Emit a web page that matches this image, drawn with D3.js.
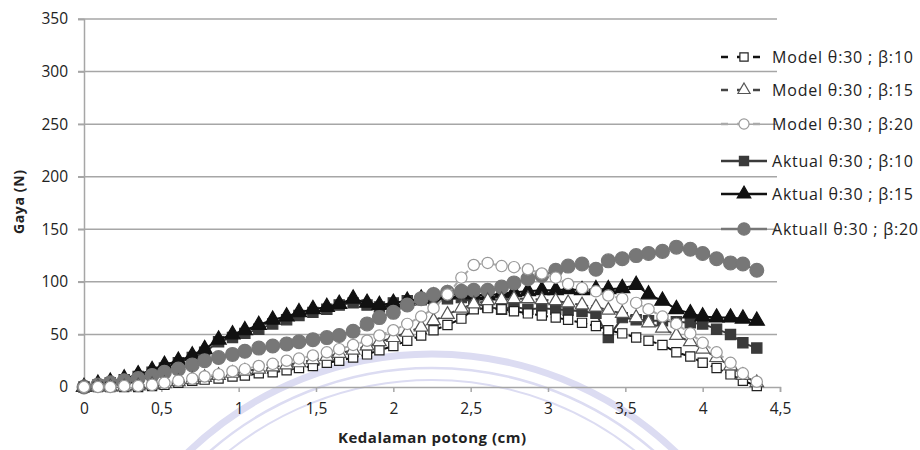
<!DOCTYPE html>
<html>
<head lang="en">
    <meta charset="UTF-8">
    <title></title>
    <script src="https://cdn.jsdelivr.net/npm/d3@7"></script>
    <style>
        body { margin: 0; background: #fff; }
        text { font-family: "Open Sans", "Noto Sans", sans-serif; fill: #222; }
    </style>
</head>
<body>
<div id="chart"></div>
<script>
    // kedalaman potong (cm)
    var depth = [0, 0.09, 0.17, 0.26, 0.35, 0.44, 0.52, 0.61, 0.70, 0.78, 0.87, 0.96, 1.04, 1.13, 1.22, 1.31, 1.39,
        1.48, 1.57, 1.65, 1.74, 1.83, 1.91, 2.00, 2.09, 2.18, 2.26, 2.35, 2.44, 2.52, 2.61, 2.70, 2.78, 2.87,
        2.96, 3.05, 3.13, 3.22, 3.31, 3.39, 3.48, 3.57, 3.65, 3.74, 3.83, 3.92, 4.00, 4.09, 4.18, 4.26, 4.35];

    var model10 = [0, 0, 0, 0, 0, 1, 2, 4, 6, 7, 8, 10, 11, 13, 14, 16, 18, 20, 23, 25, 28, 31, 35, 39, 44, 49, 54,
        59, 65, 74, 75, 74, 72, 70, 68, 66, 64, 61, 58, 54, 51, 47, 44, 40, 33, 29, 23, 18, 12, 6, 1];
    var model15 = [0, 0, 0, 0, 1, 2, 3, 5, 7, 9, 11, 13, 15, 17, 19, 21, 23, 26, 29, 32, 35, 39, 43, 47, 52, 57, 63,
        69, 75, 79, 82, 83, 84, 84, 83, 82, 80, 78, 76, 73, 70, 66, 61, 56, 49, 43, 36, 28, 20, 11, 4];
    var model20 = [0, 0, 0, 1, 1, 2, 4, 6, 8, 10, 12, 15, 17, 20, 22, 25, 27, 30, 33, 36, 40, 44, 49, 54, 60, 67, 75,
        88, 104, 116, 118, 115, 114, 112, 108, 104, 98, 94, 91, 87, 84, 80, 74, 67, 60, 51, 42, 33, 23, 13, 5];
    var aktual10 = [0, 2, 4, 7, 10, 14, 18, 23, 28, 33, 43, 47, 51, 55, 60, 64, 68, 71, 74, 78, 80, 78, 76, 80, 82,
        83, 84, 84, 85, 80, 76, 74, 76, 74, 75, 74, 73, 72, 70, 47, 66, 64, 63, 63, 62, 61, 60, 55, 50, 42, 37];
    var aktual15 = [0, 3, 5, 8, 12, 16, 21, 25, 30, 36, 45, 50, 54, 59, 64, 67, 71, 74, 76, 79, 84, 80, 78, 80, 82,
        84, 86, 88, 89, 88, 87, 89, 90, 91, 92, 92, 93, 92, 93, 93, 94, 97, 88, 82, 74, 70, 67, 66, 66, 65, 63];
    var aktual20 = [0, 2, 4, 6, 8, 11, 14, 17, 21, 25, 28, 31, 34, 37, 39, 41, 43, 45, 47, 49, 53, 60, 66, 71, 78,
        84, 88, 90, 91, 92, 92, 95, 99, 103, 106, 111, 115, 117, 112, 120, 122, 125, 127, 129, 133, 131, 127,
        122, 118, 117, 111];

    var seriesNames = ["Model θ:30 ; β:10", "Model θ:30 ; β:15", "Model θ:30 ; β:20",
        "Aktual θ:30 ; β:10", "Aktual θ:30 ; β:15", "Aktuall θ:30 ; β:20"];
    var seriesValues = [model10, model15, model20, aktual10, aktual15, aktual20];
    var xTicks = [0, 0.5, 1, 1.5, 2, 2.5, 3, 3.5, 4, 4.5];
    var yTicks = [0, 50, 100, 150, 200, 250, 300, 350];

    // tampilan tiap seri: garis, penanda
    var looks = [
        {line: "#111", dash: "5,3", shape: d3.symbolSquare, size: 85, fill: "#fff", stroke: "#222"},
        {line: "#444", dash: "5,3", shape: d3.symbolTriangle, size: 80, fill: "#fff", stroke: "#555"},
        {line: "#aaa", dash: "5,3", shape: d3.symbolCircle, size: 100, fill: "#fff", stroke: "#999"},
        {line: "#3a3a3a", dash: null, shape: d3.symbolSquare, size: 105, fill: "#3a3a3a", stroke: "#3a3a3a"},
        {line: "#111", dash: null, shape: d3.symbolTriangle, size: 100, fill: "#111", stroke: "#111"},
        {line: "#777", dash: null, shape: d3.symbolCircle, size: 150, fill: "#777", stroke: "#777"}
    ];

    var width = 920, height = 450;
    var svg = d3.select("#chart").append("svg")
            .attr("width", width)
            .attr("height", height);

    var x = d3.scaleLinear().domain([0, 4.5]).range([84, 780]);
    var y = d3.scaleLinear().domain([0, 350]).range([387, 19]);

    // watermark samar
    var wm = svg.append("g").attr("fill", "none").attr("stroke", "#dcdcf2");
    [[352, 7], [338, 2.5], [326, 2]].forEach(function(a){
        wm.append("circle").attr("cx", 432).attr("cy", 706).attr("r", a[0]).attr("stroke-width", a[1]);
    });

    // grid
    svg.append("g")
            .selectAll("line")
            .data(yTicks.slice(1))
            .enter().append("line")
            .attr("x1", 78).attr("x2", 777)
            .attr("y1", function(d){ return y(d); })
            .attr("y2", function(d){ return y(d); })
            .attr("stroke", "#a6a6a6")
            .attr("stroke-width", 1.5);

    var yAxis = svg.append("g")
            .attr("transform", "translate(84,0)")
            .call(d3.axisLeft(y).tickValues(yTicks).tickSize(6).tickPadding(10));
    var xAxis = svg.append("g")
            .attr("transform", "translate(0,387)")
            .call(d3.axisBottom(x).tickValues(xTicks).tickSize(5).tickPadding(11)
                    .tickFormat(function(d){ return String(d).replace(".", ","); }));
    [yAxis, xAxis].forEach(function(g){
        g.select(".domain").attr("stroke", "#a6a6a6").attr("stroke-width", 1.5);
        g.selectAll(".tick line").attr("stroke", "#a6a6a6").attr("stroke-width", 1.5);
        g.selectAll(".tick text").attr("font-size", 15.5).attr("fill", "#2a2a2a")
                .attr("font-family", "'Open Sans', sans-serif");
    });

    svg.append("text")
            .attr("transform", "translate(24,202) rotate(-90)")
            .attr("text-anchor", "middle")
            .attr("font-size", 14)
            .attr("font-weight", "bold")
            .attr("textLength", 64)
            .text("Gaya (N)");
    svg.append("text")
            .attr("x", 432).attr("y", 443)
            .attr("text-anchor", "middle")
            .attr("font-size", 15)
            .attr("font-weight", "bold")
            .attr("textLength", 188)
            .text("Kedalaman potong (cm)");

    var line = d3.line()
            .x(function(d){ return x(d[0]); })
            .y(function(d){ return y(d[1]); });

    // aktual digambar dulu, model di atasnya
    var order = [3, 4, 5, 0, 1, 2];
    order.forEach(function(i){
        var pts = depth.map(function(dx, k){ return [dx, seriesValues[i][k]]; });
        var look = looks[i];
        var g = svg.append("g");
        g.append("path")
                .datum(pts)
                .attr("d", line)
                .attr("fill", "none")
                .attr("stroke", look.line)
                .attr("stroke-width", 2)
                .attr("stroke-dasharray", look.dash);
        g.selectAll("path.m")
                .data(pts)
                .enter().append("path")
                .attr("class", "m")
                .attr("transform", function(d){ return "translate(" + x(d[0]) + "," + y(d[1]) + ")"; })
                .attr("d", d3.symbol().type(look.shape).size(look.size))
                .attr("fill", look.fill)
                .attr("stroke", look.stroke)
                .attr("stroke-width", 1.2);
    });

    // legenda
    var legendY = [57, 90, 124, 161, 194, 229];
    var legendW = [141, 141, 141, 141, 141, 146];
    var legend = svg.append("g");
    seriesNames.forEach(function(name, i){
        var look = looks[i];
        var row = legend.append("g").attr("transform", "translate(0," + legendY[i] + ")");
        row.append("line")
                .attr("x1", 721).attr("x2", 767)
                .attr("stroke", look.line)
                .attr("stroke-width", 2.5)
                .attr("stroke-dasharray", look.dash ? "7,9" : null);
        row.append("path")
                .attr("transform", "translate(744,0)")
                .attr("d", d3.symbol().type(look.shape).size(look.size * 0.8))
                .attr("fill", look.fill)
                .attr("stroke", look.stroke)
                .attr("stroke-width", 1.2);
        row.append("text")
                .attr("x", 772).attr("y", 5.5)
                .attr("font-size", 16)
                .attr("textLength", legendW[i])
                .text(name);
    });
</script>
</body>
</html>
